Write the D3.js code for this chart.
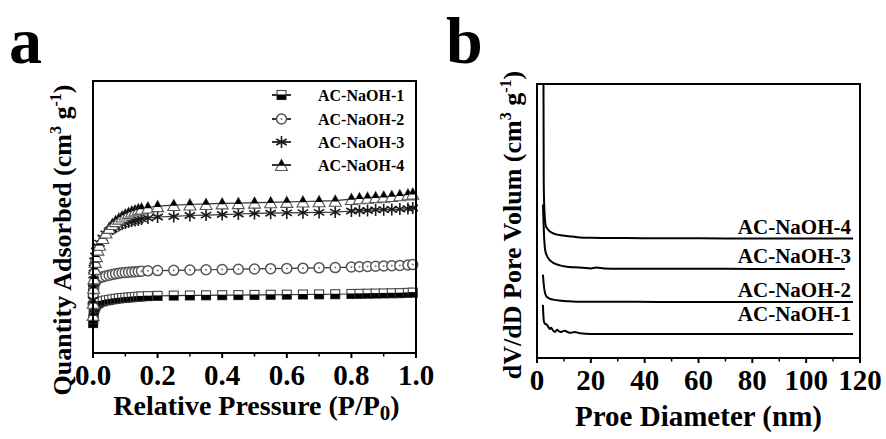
<!DOCTYPE html>
<html><head><meta charset="utf-8">
<script src="https://cdn.jsdelivr.net/npm/d3@7"></script>
<style>
body{margin:0;background:#fff}
svg{display:block}
text{font-family:"Liberation Serif","Times New Roman",serif;font-weight:bold;fill:#000}
</style>
</head><body>
<svg id="c" width="886" height="439"></svg>
<script>
// ---------- DATA ----------
// Panel a: N2 isotherms (arbitrary units)
const pressure = [0.0005,0.001,0.002,0.003,0.005,0.007,0.01,0.015,0.02,0.03,0.04,0.05,0.06,0.07,0.08,0.09,0.10,0.11,0.12,0.13,0.14,0.15,0.17,0.20,
  0.25,0.30,0.35,0.40,0.45,0.50,0.55,0.60,0.65,0.70,0.75,
  0.80,0.825,0.85,0.875,0.90,0.925,0.95,0.975,0.99];
const adsorbed1 = [11.0,12.5,14.5,15.6,16.6,17.2,17.8,18.3,18.6,19.0,19.3,19.5,19.7,19.9,20.05,20.2,20.3,20.4,20.5,20.6,20.7,20.8,20.9,21.0,
  21.1,21.15,21.2,21.25,21.3,21.35,21.4,21.45,21.5,21.55,21.6,
  21.7,21.75,21.8,21.85,21.9,21.95,22.0,22.1,22.2];
const adsorbed2 = [18.0,21.0,23.5,24.8,25.8,26.4,26.9,27.4,27.7,28.0,28.3,28.6,28.9,29.1,29.3,29.5,29.6,29.7,29.8,29.9,30.0,30.1,30.2,30.3,
  30.4,30.5,30.6,30.7,30.8,30.9,31.0,31.1,31.2,31.3,31.4,
  31.6,31.7,31.8,31.9,32.0,32.1,32.2,32.35,32.5];
const adsorbed3 = [19.5,23.9,28.7,31.25,33.8,35.7,37.5,39.3,40.4,42.3,43.75,44.85,45.6,46.3,46.9,47.4,47.8,48.2,48.5,48.7,48.9,49.3,49.6,50.0,
  50.2,50.55,50.7,50.9,51.1,51.3,51.4,51.5,51.6,51.7,51.8,
  52.2,52.3,52.4,52.6,52.7,52.8,52.9,53.1,53.3];
const adsorbed4 = [14.0,18.5,24.0,27.5,31.0,33.5,35.6,38.0,39.8,42.3,44.3,46.0,47.4,48.5,49.4,50.2,50.9,51.5,52.0,52.4,52.8,53.1,53.5,54.0,
  54.4,54.6,54.8,55.0,55.1,55.3,55.4,55.55,55.7,55.8,56.0,
  56.6,56.9,57.1,57.3,57.5,57.7,58.0,58.3,58.6];
const sampleNames = ["AC-NaOH-1","AC-NaOH-2","AC-NaOH-3","AC-NaOH-4"];
const xTicksA = [0,0.2,0.4,0.6,0.8,1.0];
const xTickLabelsA = ["0.0","0.2","0.4","0.6","0.8","1.0"];
const xMinorA = [0.1,0.3,0.5,0.7,0.9];

// Panel b: pore size distributions (offset, arbitrary units)
const diameter1 = [2.2,2.4,2.6,3.0,3.7,4.3,4.8,5.2,6.0,6.7,7.4,8.2,8.9,9.6,10.4,11.5,12.6,14,16,20,40,80,117.4];
const volume1   = [1.94,1.5,1.32,1.25,1.21,1.12,1.06,1.10,1.0,0.95,1.03,0.97,0.95,0.98,0.99,0.94,0.92,0.95,0.90,0.88,0.88,0.88,0.88];
const diameter2 = [2.2,2.6,3.0,3.6,4.5,6.0,9,12,16,30,60,90,117.4];
const volume2   = [3.04,2.6,2.36,2.24,2.18,2.13,2.09,2.07,2.05,2.05,2.04,2.04,2.04];
const diameter3 = [2.2,2.6,3.0,3.6,4.5,5.9,8.5,11.1,14,17,20,22,25,30,40,60,80,100,114.4];
const volume3   = [5.6,4.5,3.96,3.75,3.6,3.48,3.38,3.33,3.31,3.29,3.27,3.30,3.27,3.26,3.26,3.26,3.25,3.25,3.25];
const diameter4 = [2.3,2.5,2.7,3.3,4.8,6.5,9.7,13,16,20,30,40,60,80,100,117.4];
const volume4   = [14,6.5,5.5,4.8,4.62,4.53,4.47,4.43,4.40,4.39,4.38,4.37,4.37,4.36,4.36,4.36];
const xTicksB = [0,20,40,60,80,100,120];
const xMinorB = [10,30,50,70,90,110];

// ---------- LAYOUT ----------
const svg = d3.select("#c");
const A = {l:93, r:416, t:81, b:353};
const B = {l:537, r:860, t:84, b:358};

const xA = d3.scaleLinear().domain([0,1]).range([A.l, A.r]);
const yA = d3.scaleLinear().domain([0,100]).range([A.b, A.t]);
const xB = d3.scaleLinear().domain([0,120]).range([B.l, B.r]);
const yB = d3.scaleLinear().domain([0,10]).range([B.b, B.t]);

// panel letters
svg.append("text").attr("x",9).attr("y",63).style("font-size","66px").text("a");
svg.append("text").attr("x",446).attr("y",63).style("font-size","66px").text("b");

// ---------- PANEL A ----------
const gA = svg.append("g");
const seriesA = [adsorbed1, adsorbed2, adsorbed3, adsorbed4];
const line = d3.line().x((d,i)=>xA(pressure[i])).y(d=>yA(d));
seriesA.forEach(s=>{
  gA.append("path").attr("d", line(s)).attr("fill","none").attr("stroke","#333").attr("stroke-width",1.2);
});

function drawMarker(g, type, cx, cy){
  if(type===0){ // square, bottom half filled
    g.append("rect").attr("x",cx-4.5).attr("y",cy-4.5).attr("width",9).attr("height",9)
      .attr("fill","#fff").attr("stroke","#444").attr("stroke-width",1.1);
    g.append("rect").attr("x",cx-4.5).attr("y",cy-0.5).attr("width",9).attr("height",5).attr("fill","#000");
  } else if(type===1){ // open circle
    g.append("circle").attr("cx",cx).attr("cy",cy).attr("r",5)
      .attr("fill","#fff").attr("stroke","#555").attr("stroke-width",1.5);
    g.append("circle").attr("cx",cx).attr("cy",cy).attr("r",1).attr("fill","#777");
  } else if(type===2){ // star
    const r=6;
    let d="";
    [90,30,150].forEach(a=>{
      const dx=r*Math.cos(a*Math.PI/180), dy=r*Math.sin(a*Math.PI/180);
      d+=`M${cx-dx},${cy-dy}L${cx+dx},${cy+dy}`;
    });
    g.append("path").attr("d",d).attr("stroke","#1a1a1a").attr("stroke-width",1.6).attr("fill","none");
  } else { // triangle, top filled
    const h=11, w=12;
    g.append("path").attr("d",`M${cx},${cy-h/2}L${cx+w/2},${cy+h/2}L${cx-w/2},${cy+h/2}Z`)
      .attr("fill","#fff").attr("stroke","#555").attr("stroke-width",1.1);
    g.append("path").attr("d",`M${cx},${cy-h/2}L${cx+w/4+0.5},${cy+0.8}L${cx-w/4-0.5},${cy+0.8}Z`)
      .attr("fill","#000");
  }
}
[1,0,2,3].forEach(k=>{
  const g = gA.append("g");
  seriesA[k].forEach((v,i)=>drawMarker(g,k,xA(pressure[i]),yA(v)));
});

// frame
gA.append("rect").attr("x",A.l).attr("y",A.t).attr("width",A.r-A.l).attr("height",A.b-A.t)
  .attr("fill","none").attr("stroke","#000").attr("stroke-width",2);
// x ticks
gA.selectAll(".tkA").data(xTicksA).enter().append("line")
  .attr("x1",d=>xA(d)).attr("x2",d=>xA(d)).attr("y1",A.b).attr("y2",A.b+5)
  .attr("stroke","#000").attr("stroke-width",2);
gA.selectAll(".mtA").data(xMinorA).enter().append("line")
  .attr("x1",d=>xA(d)).attr("x2",d=>xA(d)).attr("y1",A.b).attr("y2",A.b+3.5)
  .attr("stroke","#000").attr("stroke-width",1.5);
gA.selectAll(".tlA").data(xTicksA).enter().append("text")
  .attr("x",d=>xA(d)).attr("y",385).attr("text-anchor","middle").style("font-size","29px")
  .text((d,i)=>xTickLabelsA[i]);
// x title
const tA = gA.append("text").attr("x",(A.l+A.r)/2+2).attr("y",415).attr("text-anchor","middle").style("font-size","28px");
tA.append("tspan").text("Relative Pressure (P/P");
tA.append("tspan").attr("dy",5).style("font-size","21px").text("0");
tA.append("tspan").attr("dy",-5).text(")");
// y title
const yTA = gA.append("text").attr("transform","translate(71,240) rotate(-90)").attr("text-anchor","middle").style("font-size","26px");
yTA.append("tspan").text("Quantity Adsorbed (cm");
yTA.append("tspan").attr("dy",-10).style("font-size","16px").text("3");
yTA.append("tspan").attr("dy",10).text(" g");
yTA.append("tspan").attr("dy",-10).style("font-size","16px").text("-1");
yTA.append("tspan").attr("dy",10).text(")");

// legend
const legRows = [95,119,142,165];
sampleNames.forEach((n,k)=>{
  const y = legRows[k];
  gA.append("line").attr("x1",272).attr("x2",291).attr("y1",y).attr("y2",y).attr("stroke","#000").attr("stroke-width",1.6);
  drawMarker(gA,k,281.5,y);
  gA.append("text").attr("x",318).attr("y",y+5.5).style("font-size","16px").text(n);
});

// ---------- PANEL B ----------
const gB = svg.append("g");
svg.append("defs").append("clipPath").attr("id","clipB").append("rect")
  .attr("x",B.l).attr("y",B.t).attr("width",B.r-B.l).attr("height",B.b-B.t);
const curvesB = [[diameter1,volume1],[diameter2,volume2],[diameter3,volume3],[diameter4,volume4]];
const gc = gB.append("g").attr("clip-path","url(#clipB)");
curvesB.forEach(([dx,vy])=>{
  const ln = d3.line().x((d,i)=>xB(dx[i])).y(d=>yB(d)).curve(d3.curveMonotoneX);
  gc.append("path").attr("d",ln(vy)).attr("fill","none").attr("stroke","#000").attr("stroke-width",2);
});
// labels
const labelOffset = [13,5,6,5];
curvesB.forEach(([dx,vy],k)=>{
  gB.append("text").attr("x",851).attr("y",yB(vy[vy.length-1])-labelOffset[k])
    .attr("text-anchor","end").style("font-size","21px").text(sampleNames[k]);
});
// frame
gB.append("rect").attr("x",B.l).attr("y",B.t).attr("width",B.r-B.l).attr("height",B.b-B.t)
  .attr("fill","none").attr("stroke","#000").attr("stroke-width",2);
gB.selectAll(".tkB").data(xTicksB).enter().append("line")
  .attr("x1",d=>xB(d)).attr("x2",d=>xB(d)).attr("y1",B.b).attr("y2",B.b+5)
  .attr("stroke","#000").attr("stroke-width",2);
gB.selectAll(".mtB").data(xMinorB).enter().append("line")
  .attr("x1",d=>xB(d)).attr("x2",d=>xB(d)).attr("y1",B.b).attr("y2",B.b+3.5)
  .attr("stroke","#000").attr("stroke-width",1.5);
gB.selectAll(".tlB").data(xTicksB).enter().append("text")
  .attr("x",d=>xB(d)).attr("y",390).attr("text-anchor","middle").style("font-size","29px")
  .text(d=>d);
gB.append("text").attr("x",(B.l+B.r)/2).attr("y",426).attr("text-anchor","middle").style("font-size","29px")
  .text("Proe Diameter (nm)");
const yTB = gB.append("text").attr("transform","translate(521,225) rotate(-90)").attr("text-anchor","middle").style("font-size","26px");
yTB.append("tspan").text("dV/dD Pore Volum (cm");
yTB.append("tspan").attr("dy",-10).style("font-size","16px").text("3");
yTB.append("tspan").attr("dy",10).text(" g");
yTB.append("tspan").attr("dy",-10).style("font-size","16px").text("-1");
yTB.append("tspan").attr("dy",10).text(")");
</script>
</body></html>
